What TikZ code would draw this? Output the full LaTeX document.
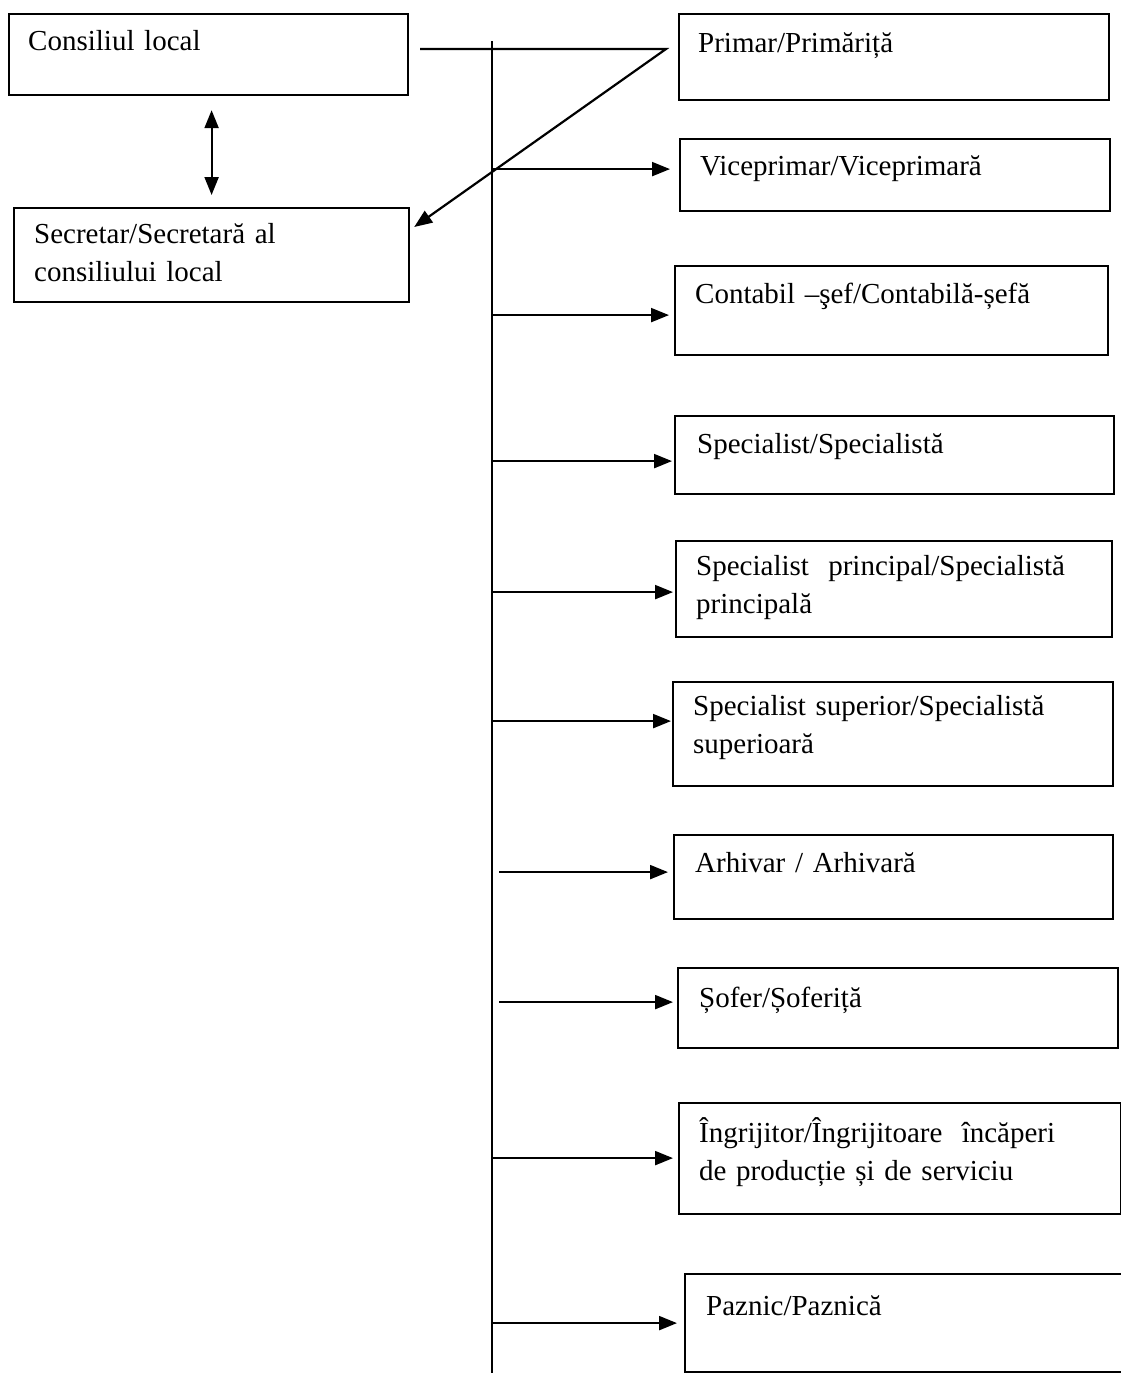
\documentclass[tikz,border=0pt]{standalone}
\usepackage{fontspec}
\setmainfont{Liberation Serif}
\usetikzlibrary{arrows.meta}

\tikzset{
  box/.style={draw, line width=2.2pt, anchor=north west, inner sep=0pt},
  boxtext/.style={anchor=base west, inner sep=0pt, text width=430pt, align=left,
    font=\fontsize{29}{38}\selectfont},
  conn/.style={line width=2.2pt, -{Triangle[length=18pt,width=14pt]}},
}

\begin{document}
\begin{tikzpicture}[x=1pt,y=-1pt]
\useasboundingbox (0,0) rectangle (1121,1373);

% left column
\node[box, minimum width=399pt, minimum height=81pt] (consiliu) at (8,13) {};
\node[boxtext] (consiliu-t) at (28,50) {Consiliul local};

\node[box, minimum width=395pt, minimum height=94pt] (secretar) at (13,207) {};
\node[boxtext] (secretar-t) at (34,243) {Secretar/Secretară al\\consiliului local};

\draw[line width=2.2pt, {Triangle[length=18pt,width=14pt]}-{Triangle[length=18pt,width=14pt]},
  shorten <=14pt, shorten >=12pt] (consiliu.south -| secretar.north) -- (secretar.north);

% right column
\node[box, minimum width=430pt, minimum height=86pt] (primar) at (678,13) {};
\node[boxtext] (primar-t) at (698,52) {Primar/Primăriță};

\node[box, minimum width=430pt, minimum height=72pt] (vice) at (679,138) {};
\node[boxtext] (vice-t) at (700,175) {Viceprimar/Viceprimară};

\node[box, minimum width=433pt, minimum height=89pt] (contabil) at (674,265) {};
\node[boxtext] (contabil-t) at (695,303) {Contabil –şef/Contabilă-șefă};

\node[box, minimum width=439pt, minimum height=78pt] (specialist) at (674,415) {};
\node[boxtext] (specialist-t) at (697,453) {Specialist/Specialistă};

\node[box, minimum width=436pt, minimum height=96pt] (principal) at (675,540) {};
\node[boxtext] (principal-t) at (696,575) {Specialist~ principal/Specialistă\\principală};

\node[box, minimum width=440pt, minimum height=104pt] (superior) at (672,681) {};
\node[boxtext] (superior-t) at (693,715) {Specialist superior/Specialistă\\superioară};

\node[box, minimum width=439pt, minimum height=84pt] (arhivar) at (673,834) {};
\node[boxtext] (arhivar-t) at (695,872) {Arhivar / Arhivară};

\node[box, minimum width=440pt, minimum height=80pt] (sofer) at (677,967) {};
\node[boxtext] (sofer-t) at (699,1007) {Șofer/Șoferiță};

\node[box, minimum width=442pt, minimum height=111pt] (ingrijitor) at (678,1102) {};
\node[boxtext] (ingrijitor-t) at (699,1142) {Îngrijitor/Îngrijitoare~ încăperi\\de producție și de serviciu};

\node[box, minimum width=470pt, minimum height=98pt] (paznic) at (684,1273) {};
\node[boxtext] (paznic-t) at (706,1315) {Paznic/Paznică};

% spine
\coordinate (spine-top) at (492,41);
\coordinate (spine-end) at (492,1390);
\draw[line width=2.2pt] (spine-top) -- (spine-end);

% consiliu -> primar -> secretar
\coordinate (kink) at (666,49);
\draw[conn] ([xshift=11pt]consiliu.east |- kink) -- (kink) -- ([shift={(4,20)}]secretar.north east);

% arrows to the boxes
\draw[conn, shorten >=9pt] ([yshift=6pt]vice.west -| spine-top) -- ([yshift=6pt]vice.west);
\draw[conn, shorten >=5pt] ([yshift=-4.5pt]contabil.west -| spine-top) -- ([yshift=-4.5pt]contabil.west);
\draw[conn, shorten >=2pt] ([yshift=-6pt]specialist.west -| spine-top) -- ([yshift=-6pt]specialist.west);
\draw[conn, shorten >=2pt] ([yshift=-3pt]principal.west -| spine-top) -- ([yshift=-3pt]principal.west);
\draw[conn, shorten >=1pt] ([yshift=13pt]superior.west -| spine-top) -- ([yshift=13pt]superior.west);
\draw[conn, shorten >=5pt, shorten <=7pt] ([yshift=5pt]arhivar.west -| spine-top) -- ([yshift=5pt]arhivar.west);
\draw[conn, shorten >=4pt, shorten <=7pt] ([yshift=6pt]sofer.west -| spine-top) -- ([yshift=6pt]sofer.west);
\draw[conn, shorten >=5pt] ([yshift=0.5pt]ingrijitor.west -| spine-top) -- ([yshift=0.5pt]ingrijitor.west);
\draw[conn, shorten >=7pt] (paznic.west -| spine-top) -- (paznic.west);

\end{tikzpicture}
\end{document}
